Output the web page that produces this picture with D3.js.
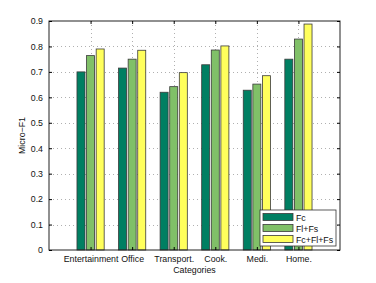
<!DOCTYPE html>
<html>
<head>
<meta charset="utf-8">
<script src="https://cdn.jsdelivr.net/npm/d3@7"></script>
<style>
body { margin: 0; background: #fff; }
svg { font-family: "Liberation Sans", Arial, sans-serif; }
</style>
</head>
<body>
<svg id="chart"></svg>
<script>
const width = 376;
const height = 283;

const categories = ["Entertainment", "Office", "Transport.", "Cook.", "Medi.", "Home."];
const seriesNames = ["Fc", "Fl+Fs", "Fc+Fl+Fs"];
const fc = [0.700, 0.715, 0.620, 0.728, 0.628, 0.750];
const flfs = [0.764, 0.750, 0.642, 0.786, 0.652, 0.829];
const fcflfs = [0.790, 0.785, 0.697, 0.802, 0.685, 0.888];
const yTicks = [0, 0.1, 0.2, 0.3, 0.4, 0.5, 0.6, 0.7, 0.8, 0.9];
const colors = ["#007f62", "#80c068", "#ffff5c"];

const series = [fc, flfs, fcflfs];
const margin = { left: 49, right: 36, top: 21, bottom: 33 };
const fs = 8.8;

const svg = d3.select("#chart")
    .attr("width", width)
    .attr("height", height);

const x = d3.scaleLinear().domain([0, 7]).range([margin.left, width - margin.right]);
const y = d3.scaleLinear().domain([0, 0.9]).range([height - margin.bottom, margin.top]);

const x0 = x(0), x1 = x(7), yb = y(0), yt = y(0.9);

// grid
const grid = svg.append("g").attr("stroke", "#b0b0b0").attr("stroke-dasharray", "1,3").attr("stroke-width", 1);
yTicks.slice(1, -1).forEach(t => {
    grid.append("line").attr("x1", x0).attr("x2", x1).attr("y1", Math.round(y(t)) + 0.5).attr("y2", Math.round(y(t)) + 0.5);
});
categories.forEach((c, i) => {
    grid.append("line").attr("x1", Math.round(x(i + 1)) + 0.5).attr("x2", Math.round(x(i + 1)) + 0.5).attr("y1", yt).attr("y2", yb);
});

// bars
const step = 9.6;
const bw = 8;
series.forEach((vals, s) => {
    svg.append("g").selectAll("rect")
        .data(vals)
        .enter().append("rect")
        .attr("x", (d, i) => x(i + 1) + (s - 1) * step - bw / 2)
        .attr("y", d => y(d))
        .attr("width", bw)
        .attr("height", d => yb - y(d))
        .attr("fill", colors[s])
        .attr("stroke", "#3a3a3a")
        .attr("stroke-width", 0.8);
});

// axes box
svg.append("rect").attr("x", x0).attr("y", yt).attr("width", x1 - x0).attr("height", yb - yt)
    .attr("fill", "none").attr("stroke", "#222").attr("stroke-width", 1);

const yAxis = svg.append("g").attr("transform", `translate(${x0},0)`)
    .call(d3.axisLeft(y).tickValues(yTicks).tickSizeInner(-3).tickSizeOuter(0).tickPadding(6).tickFormat(d => d === 0 ? "0" : d3.format(".1f")(d)));
yAxis.select(".domain").remove();
yAxis.selectAll("text").attr("font-size", fs).attr("fill", "#111");

const yAxisR = svg.append("g").attr("transform", `translate(${x1},0)`)
    .call(d3.axisRight(y).tickValues(yTicks).tickSizeInner(-3).tickSizeOuter(0).tickFormat(""));
yAxisR.select(".domain").remove();

const xAxis = svg.append("g").attr("transform", `translate(0,${yb})`)
    .call(d3.axisBottom(x).tickValues(d3.range(1, 7)).tickSizeInner(-3).tickSizeOuter(0).tickPadding(6).tickFormat(d => categories[d - 1]));
xAxis.select(".domain").remove();
xAxis.selectAll("text").attr("font-size", fs).attr("fill", "#111");

const xAxisT = svg.append("g").attr("transform", `translate(0,${yt})`)
    .call(d3.axisTop(x).tickValues(d3.range(1, 7)).tickSizeInner(-3).tickSizeOuter(0).tickFormat(""));
xAxisT.select(".domain").remove();

// axis labels
svg.append("text").attr("x", (x0 + x1) / 2).attr("y", 273).attr("text-anchor", "middle")
    .attr("font-size", fs).attr("fill", "#111").text("Categories");
svg.append("text").attr("transform", `translate(25,${(yt + yb) / 2}) rotate(-90)`).attr("text-anchor", "middle")
    .attr("font-size", fs).attr("fill", "#111").text("Micro\u2212F1");

// legend
const lg = svg.append("g").attr("transform", "translate(260,210)");
lg.append("rect").attr("width", 76).attr("height", 36).attr("fill", "#fff").attr("stroke", "#333").attr("stroke-width", 0.8);
seriesNames.forEach((n, i) => {
    lg.append("rect").attr("x", 3).attr("y", 3.5 + i * 11).attr("width", 30).attr("height", 7)
        .attr("fill", colors[i]).attr("stroke", "#3a3a3a").attr("stroke-width", 0.8);
    lg.append("text").attr("x", 36).attr("y", 10.5 + i * 11).attr("font-size", fs).attr("fill", "#111").text(n);
});
</script>
</body>
</html>
